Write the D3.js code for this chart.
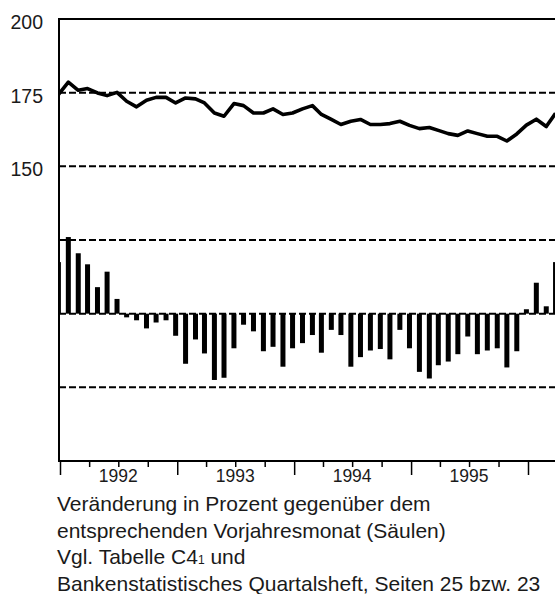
<!DOCTYPE html>
<html>
<head>
<meta charset="utf-8">
<script src="https://cdn.jsdelivr.net/npm/d3@7"></script>
<style>
  body { margin: 0; background: #fff; }
  svg { display: block; font-family: "Liberation Sans", Arial, sans-serif; }
</style>
</head>
<body>
<div id="chart"></div>
<script>
// one value per month, Dec 1991 .. Mar 1996
const months = [
  "1991-12",
  "1992-01","1992-02","1992-03","1992-04","1992-05","1992-06","1992-07","1992-08","1992-09","1992-10","1992-11","1992-12",
  "1993-01","1993-02","1993-03","1993-04","1993-05","1993-06","1993-07","1993-08","1993-09","1993-10","1993-11","1993-12",
  "1994-01","1994-02","1994-03","1994-04","1994-05","1994-06","1994-07","1994-08","1994-09","1994-10","1994-11","1994-12",
  "1995-01","1995-02","1995-03","1995-04","1995-05","1995-06","1995-07","1995-08","1995-09","1995-10","1995-11","1995-12",
  "1996-01","1996-02","1996-03"
];

// level (line, left scale)
const level = [
  174.3,
  178.6, 175.8, 176.4, 174.9, 174.0, 175.1, 172.1, 170.2, 172.4, 173.4, 173.4, 171.5,
  173.2, 172.9, 171.5, 168.1, 167.0, 171.3, 170.6, 168.1, 168.1, 169.5, 167.6, 168.1,
  169.5, 170.6, 167.6, 165.9, 164.2, 165.3, 165.9, 164.2, 164.2, 164.5, 165.3, 163.9,
  162.8, 163.2, 162.2, 161.1, 160.5, 162.0, 161.1, 160.2, 160.2, 158.6, 161.0, 164.0,
  166.0, 163.5, 168.0
];

// change vs same month of previous year, percent (bars)
const change = [
  7.0,
  10.4, 8.2, 6.7, 3.6, 5.7, 2.0, -0.5, -0.9, -2.0, -1.2, -0.9, -3.0,
  -6.8, -3.5, -5.4, -9.0, -8.7, -4.7, -1.5, -2.4, -5.1, -4.5, -7.2, -4.7,
  -4.0, -2.9, -5.3, -2.2, -2.9, -7.2, -5.9, -5.0, -4.8, -6.2, -2.2, -4.7,
  -7.9, -8.8, -7.0, -6.5, -5.5, -3.1, -5.5, -5.0, -4.7, -7.3, -5.1, 0.6,
  4.2, 1.0, 7.0
];

const yTickLabels = [200, 175, 150];
const gridLevels = [175, 150, 125, 100, 75];
const years = [1992, 1993, 1994, 1995];
const notes = [
  ["Veränderung in Prozent gegenüber dem"],
  ["entsprechenden Vorjahresmonat (Säulen)"],
  ["Vgl. Tabelle C4", "1", " und"],
  ["Bankenstatistisches Quartalsheft, Seiten 25 bzw. 23"]
];

const width = 555, height = 594;
const plotLeft = 59, plotTop = 19, plotBottom = 461;

const svg = d3.select("#chart").append("svg")
  .attr("width", width)
  .attr("height", height);

const parseMonth = d3.timeParse("%Y-%m");
// values are plotted near the end of their month
const dates = months.map(m => d3.timeDay.offset(parseMonth(m), 26));

const xScale = d3.scaleTime()
  .domain([new Date(1992, 0, 1), new Date(1996, 0, 1)])
  .range([60, 528]);

const yScale = d3.scaleLinear()
  .domain([50, 200])
  .range([plotBottom, plotTop]);

// bars share the frame: +-10 % on the 125 / 75 grid lines
const barScale = d3.scaleLinear()
  .domain([-10, 10])
  .range([yScale(75), yScale(125)]);

svg.append("clipPath").attr("id", "plot-clip")
  .append("rect")
  .attr("x", plotLeft).attr("y", plotTop)
  .attr("width", width + 20 - plotLeft).attr("height", plotBottom - plotTop);

// grid lines
svg.append("g").selectAll("line")
  .data(gridLevels)
  .enter()
  .append("line")
    .attr("x1", plotLeft)
    .attr("x2", width + 10)
    .attr("y1", d => yScale(d))
    .attr("y2", d => yScale(d))
    .attr("stroke", "#000")
    .attr("stroke-width", 2)
    .attr("stroke-dasharray", "7,3");

const plot = svg.append("g").attr("clip-path", "url(#plot-clip)");

// bars
const barWidth = 5;
plot.selectAll("rect.bar")
  .data(change)
  .enter()
  .append("rect")
    .attr("class", "bar")
    .attr("x", (d, i) => xScale(dates[i]) - barWidth / 2)
    .attr("y", d => barScale(Math.max(0, d)))
    .attr("width", barWidth)
    .attr("height", d => Math.abs(barScale(d) - barScale(0)))
    .attr("fill", "#000");

// line
const line = d3.line()
  .x((d, i) => xScale(dates[i]))
  .y(d => yScale(d));

plot.append("path")
  .datum(level)
  .attr("d", line)
  .attr("fill", "none")
  .attr("stroke", "#000")
  .attr("stroke-width", 3.6)
  .attr("stroke-linejoin", "round");

// frame: left, top, bottom
svg.append("line")
  .attr("x1", plotLeft).attr("x2", plotLeft)
  .attr("y1", plotTop - 1).attr("y2", plotBottom + 1)
  .attr("stroke", "#000").attr("stroke-width", 2);
svg.append("line")
  .attr("x1", plotLeft - 1).attr("x2", width + 10)
  .attr("y1", plotTop).attr("y2", plotTop)
  .attr("stroke", "#000").attr("stroke-width", 2);
svg.append("line")
  .attr("x1", plotLeft - 1).attr("x2", width + 10)
  .attr("y1", plotBottom).attr("y2", plotBottom)
  .attr("stroke", "#000").attr("stroke-width", 2);

// y labels
svg.append("g").selectAll("text")
  .data(yTickLabels)
  .enter()
  .append("text")
    .attr("x", 43)
    .attr("y", d => yScale(d) + 10)
    .attr("text-anchor", "end")
    .attr("font-size", 19.5)
    .attr("fill", "#1a1a1a")
    .text(d => d);

// x ticks: quarters short, years long
const quarterTicks = d3.timeMonth.every(3).range(new Date(1992, 0, 1), new Date(1996, 6, 1));
svg.append("g")
  .attr("transform", `translate(0,${plotBottom})`)
  .call(d3.axisBottom(xScale).tickValues(quarterTicks.filter(d => d.getMonth() !== 0)).tickSize(6).tickFormat(""))
  .call(g => g.select(".domain").remove())
  .call(g => g.selectAll("line").attr("stroke-width", 1.5));

svg.append("g")
  .attr("transform", `translate(0,${plotBottom})`)
  .call(d3.axisBottom(xScale).tickValues(quarterTicks.filter(d => d.getMonth() === 0)).tickSize(14).tickFormat(""))
  .call(g => g.select(".domain").remove())
  .call(g => g.selectAll("line").attr("stroke-width", 1.5));

// year labels, centred on mid-year
svg.append("g").selectAll("text")
  .data(years)
  .enter()
  .append("text")
    .attr("x", d => xScale(new Date(d, 6, 1)))
    .attr("y", 482)
    .attr("text-anchor", "middle")
    .attr("font-size", 17.5)
    .attr("fill", "#1a1a1a")
    .text(d => d);

// notes under the chart
const noteText = svg.append("g").selectAll("text")
  .data(notes)
  .enter()
  .append("text")
    .attr("x", 57)
    .attr("y", (d, i) => 511 + i * 26.5)
    .attr("font-size", 21)
    .attr("fill", "#1a1a1a");

noteText.each(function(parts) {
  const t = d3.select(this);
  parts.forEach((p, j) => {
    const span = t.append("tspan").text(p);
    if (parts.length > 1 && j === 1) span.attr("font-size", 12);
  });
});
</script>
</body>
</html>
